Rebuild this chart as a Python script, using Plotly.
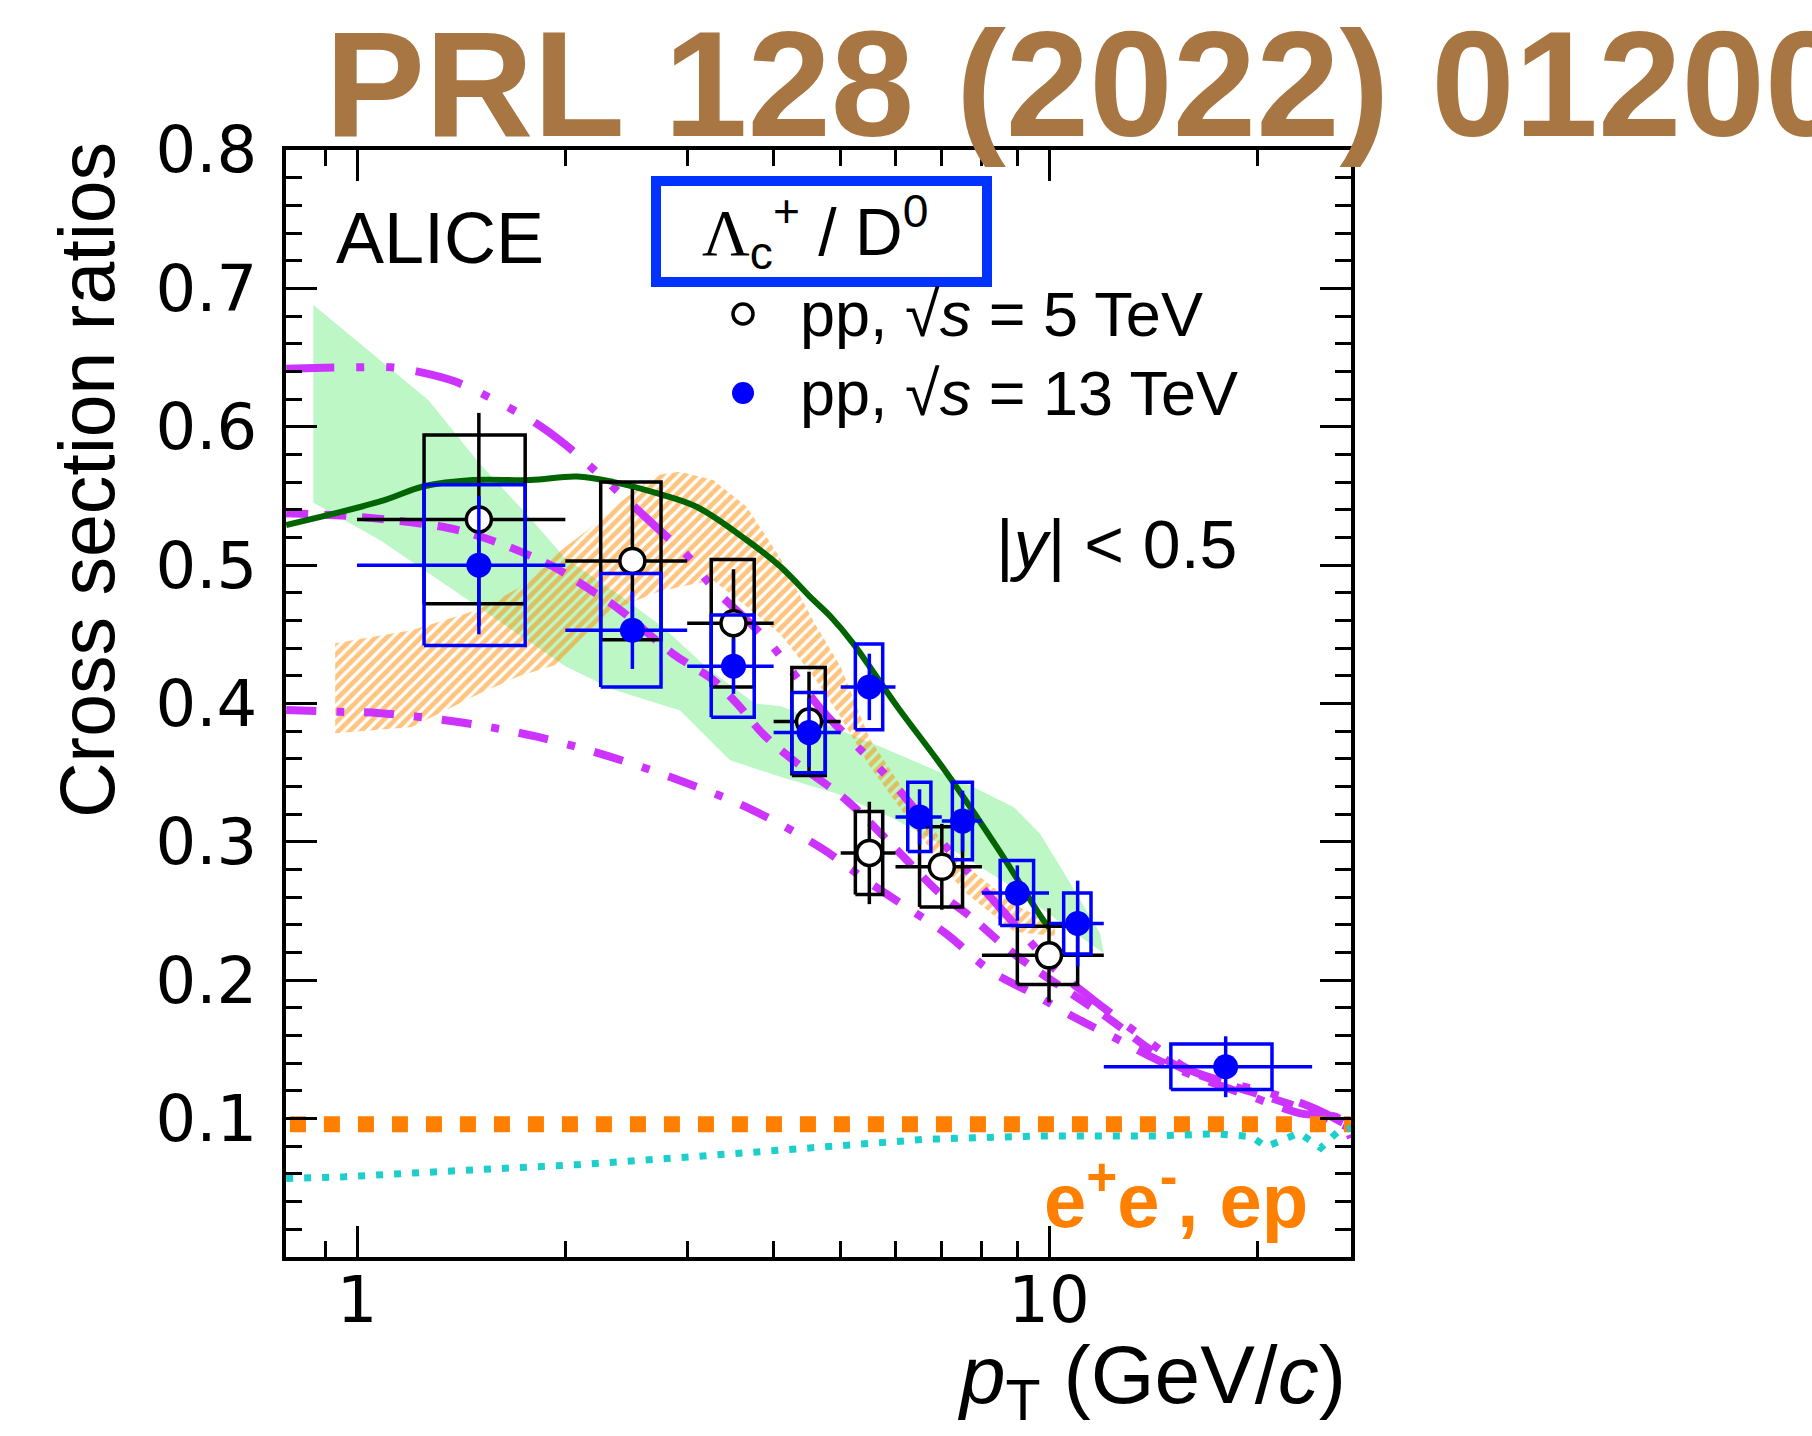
import plotly.graph_objects as go

# ---------------- data ----------------
pt5 = [1.5, 2.5, 3.5, 4.5, 5.5, 7.0, 10.0]
pt5_lo = [1, 2, 3, 4, 5, 6, 8]
pt5_hi = [2, 3, 4, 5, 6, 8, 12]
r5 = [0.533, 0.503, 0.458, 0.387, 0.292, 0.282, 0.218]
stat5 = [0.077, 0.052, 0.039, 0.036, 0.037, 0.031, 0.034]
syst5 = [0.061, 0.057, 0.046, 0.039, 0.030, 0.029, 0.021]

pt13 = [1.5, 2.5, 3.5, 4.5, 5.5, 6.5, 7.5, 9.0, 11.0, 18.0]
pt13_lo = [1, 2, 3, 4, 5, 6, 7, 8, 10, 12]
pt13_hi = [2, 3, 4, 5, 6, 7, 8, 10, 12, 24]
r13 = [0.500, 0.453, 0.427, 0.379, 0.412, 0.318, 0.315, 0.263, 0.241, 0.1375]
stat13 = [0.050, 0.028, 0.020, 0.025, 0.024, 0.020, 0.022, 0.020, 0.031, 0.022]
syst13 = [0.058, 0.041, 0.037, 0.029, 0.031, 0.025, 0.028, 0.0235, 0.022, 0.0165]

# green band (model)
gb_x_up = [0.865, 1.27, 1.5, 1.75, 2.0, 2.4, 2.77, 3.22, 3.76, 4.1, 5.7, 7.6, 8.9, 9.7, 10.3, 11.1, 11.85, 12.0]
gb_y_up = [0.688, 0.619, 0.574, 0.538, 0.505, 0.478, 0.455, 0.425, 0.400, 0.398, 0.369, 0.342, 0.325, 0.306, 0.285, 0.258, 0.234, 0.2195]
gb_x_lo = [0.865, 1.08, 1.76, 2.0, 2.35, 2.93, 3.46, 4.09, 4.93, 5.9, 7.5, 9.0, 10.5, 12.0]
gb_y_lo = [0.545, 0.518, 0.446, 0.427, 0.410, 0.395, 0.359, 0.347, 0.335, 0.318, 0.290, 0.265, 0.240, 0.2195]

# green solid line (model)
gl_x = [0.79, 1.08, 1.25, 1.47, 1.78, 2.08, 2.35, 2.71, 3.10, 3.66, 4.09, 4.56, 4.83, 5.21, 6.03, 7.11, 8.40, 9.81, 10.0]
gl_y = [0.529, 0.546, 0.557, 0.5615, 0.5615, 0.564, 0.560, 0.552, 0.542, 0.518, 0.499, 0.475, 0.463, 0.4435, 0.398, 0.350, 0.2965, 0.2435, 0.238]

# orange hatched band (model)
ob_x = [0.93, 1.2, 1.5, 1.72, 1.94, 2.15, 2.35, 2.7, 2.93, 3.27, 3.66, 4.09, 4.56, 5.0, 5.5, 6.5, 7.5, 8.9, 10.2]
ob_up = [0.4435, 0.453, 0.468, 0.484, 0.508, 0.525, 0.542, 0.565, 0.5675, 0.5615, 0.542, 0.505, 0.460, 0.4266, 0.375, 0.320, 0.285, 0.255, 0.240]
ob_lo = [0.3785, 0.383, 0.407, 0.420, 0.428, 0.451, 0.468, 0.480, 0.4844, 0.489, 0.470, 0.450, 0.420, 0.390, 0.355, 0.305, 0.265, 0.235, 0.232]

# magenta curves (models)
m1_x = [0.79, 1.0, 1.12, 1.22, 1.38, 1.57, 1.82, 2.0, 2.2, 2.74, 3.0, 3.24, 3.95, 4.7, 5.16, 5.89, 7.0, 8.1, 9.5, 10.0, 12.0, 14.0, 16.0, 18.5, 21.0, 24.0, 27.3]
m1_y = [0.642, 0.643, 0.643, 0.640, 0.633, 0.620, 0.602, 0.587, 0.569, 0.525, 0.507, 0.486, 0.4435, 0.395, 0.374, 0.345, 0.300, 0.264, 0.225, 0.212, 0.180, 0.155, 0.135, 0.125, 0.118, 0.108, 0.094]
m2_x = [0.79, 1.0, 1.35, 1.51, 1.70, 1.92, 2.12, 2.40, 2.86, 3.27, 3.54, 3.86, 4.32, 5.1, 6.03, 6.95, 7.7, 8.88, 9.9, 11.1, 12.3, 14.0, 15.4, 17.3, 20.0, 23.0, 27.3]
m2_y = [0.5375, 0.535, 0.527, 0.5205, 0.511, 0.499, 0.4857, 0.4676, 0.436, 0.417, 0.400, 0.378, 0.357, 0.330, 0.294, 0.263, 0.246, 0.2195, 0.2026, 0.186, 0.171, 0.150, 0.1375, 0.128, 0.118, 0.108, 0.093]
m3_x = [0.79, 0.945, 1.08, 1.41, 1.82, 2.32, 2.96, 3.73, 4.69, 5.52, 6.44, 7.14, 8.2, 9.5, 11.0, 12.5, 14.0, 16.0, 19.6, 23.0, 26.3, 27.3]
m3_y = [0.3953, 0.394, 0.393, 0.3864, 0.376, 0.3616, 0.3435, 0.323, 0.2954, 0.270, 0.248, 0.2327, 0.2074, 0.190, 0.172, 0.158, 0.145, 0.132, 0.116, 0.104, 0.100, 0.086]

# e+e-, ep reference (orange dotted) and teal dotted model
ee_x = [0.8, 27.3]
ee_y = [0.096, 0.096]
tq_x = [0.79, 0.96, 1.41, 2.08, 3.06, 4.49, 6.6, 9.7, 14.3, 17.5, 19.6, 20.6, 23.0, 24.7, 26.3, 27.3]
tq_y = [0.0567, 0.058, 0.0625, 0.0667, 0.0725, 0.079, 0.085, 0.0875, 0.0875, 0.089, 0.087, 0.0797, 0.0896, 0.0788, 0.0918, 0.093]

y_ticks = [0.1, 0.2, 0.3, 0.4, 0.5, 0.6, 0.7, 0.8]
x_ticks = [1, 10]
x_ticktext = ["1", "10"]
x_minor = [0.9, 2, 3, 4, 5, 6, 7, 8, 9, 20]

# ---------------- geometry helpers ----------------
PX_L, PX_R, PX_T, PX_B = 286, 1351, 150, 1257
W, H = 1812, 1436


def pxx(p):
    return (p - PX_L) / (PX_R - PX_L)


def pxy(p):
    return (PX_B - p) / (PX_B - PX_T)


def boxes(x, lo, hi, y, s):
    bx, by = [], []
    for xi, l, h, yi, si in zip(x, lo, hi, y, s):
        hw = 0.25 * (h - l)
        x0, x1 = xi - hw, xi + hw
        bx += [x0, x1, x1, x0, x0, None]
        by += [yi - si, yi - si, yi + si, yi + si, yi - si, None]
    return bx, by


BLACK = "#000000"
BLUE = "#0000ff"
MAG = "#cc33ff"
ORANGE = "#ff8000"

fig = go.Figure()

# green band
fig.add_trace(go.Scatter(x=gb_x_up + gb_x_lo[::-1], y=gb_y_up + gb_y_lo[::-1],
                         fill="toself", fillcolor="#bdf7c6", line=dict(width=0),
                         mode="lines", hoverinfo="skip", showlegend=False))
# orange hatched band
fig.add_trace(go.Scatter(x=ob_x + ob_x[::-1], y=ob_up + ob_lo[::-1],
                         fill="toself", fillcolor="rgba(0,0,0,0)",
                         fillpattern=dict(shape="/", fgcolor="#ff8a00", bgcolor="rgba(255,255,255,0)",
                                          size=8, solidity=0.6),
                         line=dict(width=0), mode="lines", hoverinfo="skip", showlegend=False))
# magenta curves
fig.add_trace(go.Scatter(x=m1_x, y=m1_y, mode="lines", line=dict(color=MAG, width=8, dash="48px,22px,8px,22px,8px,22px"),
                         line_shape="spline", showlegend=False))
fig.add_trace(go.Scatter(x=m2_x, y=m2_y, mode="lines", line=dict(color=MAG, width=8, dash="22px,16px"),
                         line_shape="spline", showlegend=False))
fig.add_trace(go.Scatter(x=m3_x, y=m3_y, mode="lines", line=dict(color=MAG, width=8, dash="30px,20px,8px,20px"),
                         line_shape="spline", showlegend=False))
# dark green line
fig.add_trace(go.Scatter(x=gl_x, y=gl_y, mode="lines", line=dict(color="#006400", width=6),
                         line_shape="spline", showlegend=False))
# e+e- / ep orange dotted
fig.add_trace(go.Scatter(x=ee_x, y=ee_y, mode="lines", line=dict(color=ORANGE, width=16, dash="16px,18px"),
                         showlegend=False))
# teal dotted
fig.add_trace(go.Scatter(x=tq_x, y=tq_y, mode="lines", line=dict(color="#1ccfca", width=7, dash="7px,11px"),
                         showlegend=False))

# 5 TeV data
bx, by = boxes(pt5, pt5_lo, pt5_hi, r5, syst5)
fig.add_trace(go.Scatter(x=bx, y=by, mode="lines", line=dict(color=BLACK, width=3.5), showlegend=False))
fig.add_trace(go.Scatter(
    x=pt5, y=r5, mode="markers",
    marker=dict(symbol="circle", size=25, color="white", line=dict(color=BLACK, width=3.5)),
    error_x=dict(type="data", symmetric=False,
                 array=[h - x for h, x in zip(pt5_hi, pt5)],
                 arrayminus=[x - l for l, x in zip(pt5_lo, pt5)],
                 color=BLACK, thickness=3.5, width=0),
    error_y=dict(type="data", array=stat5, color=BLACK, thickness=3.5, width=0),
    showlegend=False))

# 13 TeV data
bx, by = boxes(pt13, pt13_lo, pt13_hi, r13, syst13)
fig.add_trace(go.Scatter(x=bx, y=by, mode="lines", line=dict(color=BLUE, width=3.5), showlegend=False))
fig.add_trace(go.Scatter(
    x=pt13, y=r13, mode="markers",
    marker=dict(symbol="circle", size=25, color=BLUE, line=dict(width=0)),
    error_x=dict(type="data", symmetric=False,
                 array=[h - x for h, x in zip(pt13_hi, pt13)],
                 arrayminus=[x - l for l, x in zip(pt13_lo, pt13)],
                 color=BLUE, thickness=3.5, width=0),
    error_y=dict(type="data", array=stat13, color=BLUE, thickness=3.5, width=0),
    showlegend=False))

FONT = "Liberation Sans, Arial, Helvetica, sans-serif"
TICKFONT = dict(family="DejaVu Sans, Liberation Sans, sans-serif", size=64, color="black")

fig.update_layout(
    width=W, height=H,
    margin=dict(l=PX_L, r=W - PX_R, t=PX_T, b=H - PX_B, pad=0),
    paper_bgcolor="white", plot_bgcolor="white",
    showlegend=False,
    font=dict(family=FONT, color="black"),
)

fig.update_xaxes(
    type="log", range=[-0.1026, 1.4364],
    showgrid=False, zeroline=False,
    showline=True, linecolor="black", linewidth=4, mirror="allticks",
    ticks="inside", ticklen=31, tickwidth=3, tickcolor="black",
    tickmode="array", tickvals=x_ticks, ticktext=x_ticktext,
    tickfont=TICKFONT, ticklabelstandoff=-16,
    minor=dict(ticks="inside", ticklen=16, tickwidth=3, tickcolor="black",
               tickmode="array", tickvals=x_minor, showgrid=False),
)
fig.update_yaxes(
    range=[0, 0.8],
    showgrid=False, zeroline=False,
    showline=True, linecolor="black", linewidth=4, mirror="allticks",
    ticks="inside", ticklen=31, tickwidth=3, tickcolor="black",
    tickmode="array", tickvals=y_ticks, ticktext=[f"{v:.1f}" for v in y_ticks],
    tickfont=TICKFONT, ticklabelstandoff=12,
    minor=dict(ticks="inside", ticklen=16, tickwidth=3, tickcolor="black",
               tickmode="linear", tick0=0, dtick=0.02, showgrid=False),
)

ann = []
# big title
ann.append(dict(text="<b>PRL 128 (2022) 012001</b>", x=pxx(323), y=pxy(84), xref="paper", yref="paper",
                xanchor="left", yanchor="middle", showarrow=False,
                font=dict(family=FONT, size=150, color="#a87642")))
ann.append(dict(text="ALICE", x=pxx(334), y=pxy(238), xref="paper", yref="paper",
                xanchor="left", yanchor="middle", showarrow=False, font=dict(size=72)))
ann.append(dict(text="<span style=\"font-family:Liberation Serif\">Λ</span><sub>c</sub><sup>+</sup> / D<sup>0</sup>",
                x=pxx(815), y=pxy(232), xref="paper", yref="paper",
                xanchor="center", yanchor="middle", showarrow=False, font=dict(size=66)))
ann.append(dict(text="pp, √<i>s</i> = 5 TeV", x=pxx(798), y=pxy(314), xref="paper", yref="paper",
                xanchor="left", yanchor="middle", showarrow=False, font=dict(size=63)))
ann.append(dict(text="pp, √<i>s</i> = 13 TeV", x=pxx(798), y=pxy(393), xref="paper", yref="paper",
                xanchor="left", yanchor="middle", showarrow=False, font=dict(size=63)))
ann.append(dict(text="|<i>y</i>| < 0.5", x=pxx(994), y=pxy(544), xref="paper", yref="paper",
                xanchor="left", yanchor="middle", showarrow=False, font=dict(size=68)))
ann.append(dict(text="<b>e<sup>+</sup>e<sup>-</sup>, ep</b>", x=pxx(1310), y=pxy(1195), xref="paper", yref="paper",
                xanchor="right", yanchor="middle", showarrow=False, font=dict(size=76, color=ORANGE)))
ann.append(dict(text="Cross section ratios", x=pxx(87), y=pxy(480), xref="paper", yref="paper",
                xanchor="center", yanchor="middle", textangle=-90, showarrow=False, font=dict(size=77)))
ann.append(dict(text="<i>p</i><sub>T</sub> (GeV/<i>c</i>)", x=pxx(1348), y=pxy(1380), xref="paper", yref="paper",
                xanchor="right", yanchor="middle", showarrow=False, font=dict(size=82)))
fig.update_layout(annotations=ann)

shapes = []
shapes.append(dict(type="rect", xref="paper", yref="paper", x0=pxx(656), x1=pxx(987), y0=pxy(181), y1=pxy(282),
                   line=dict(color="#0033ff", width=10), fillcolor="white", layer="above"))
# legend markers
shapes.append(dict(type="circle", xref="paper", yref="paper", xsizemode="pixel", ysizemode="pixel",
                   xanchor=pxx(743), yanchor=pxy(314), x0=-10, x1=10, y0=-10, y1=10,
                   line=dict(color="black", width=3.5), fillcolor="white", layer="above"))
shapes.append(dict(type="circle", xref="paper", yref="paper", xsizemode="pixel", ysizemode="pixel",
                   xanchor=pxx(743), yanchor=pxy(393), x0=-11, x1=11, y0=-11, y1=11,
                   line=dict(color=BLUE, width=0), fillcolor=BLUE, layer="above"))
fig.update_layout(shapes=shapes)

fig.write_html("out.html")
